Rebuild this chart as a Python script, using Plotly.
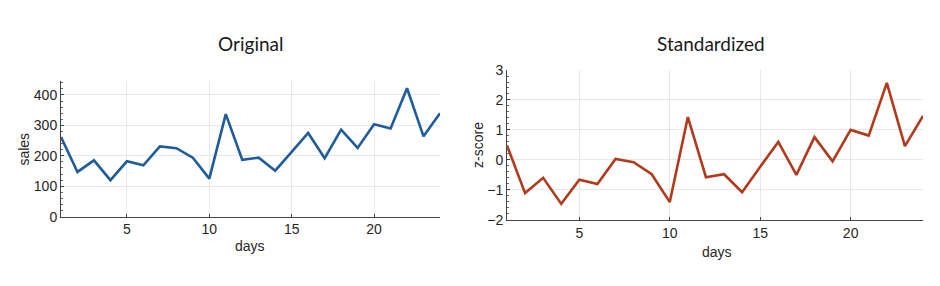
import plotly.graph_objects as go

days = list(range(1, 25))
sales = [262, 147, 185, 120, 182, 169, 231, 225, 194, 125, 337, 187,
         194, 151, 213, 275, 192, 286, 226, 304, 290, 422, 264, 340]
zscore = [0.48, -1.11, -0.60, -1.47, -0.66, -0.81, 0.03, -0.08, -0.48, -1.41, 1.43, -0.58,
          -0.48, -1.08, -0.23, 0.60, -0.50, 0.76, -0.05, 1.00, 0.81, 2.57, 0.46, 1.47]
x_ticks = [5, 10, 15, 20]
sales_ticks = [0, 100, 200, 300, 400]
z_ticks = [-2, -1, 0, 1, 2, 3]

W, H = 940, 286
tick_font = dict(family="Liberation Sans, Arial", size=14, color="#262626")
lab_font = dict(family="Liberation Sans, Arial", size=14, color="#262626")
title_font = dict(family="Lato, sans-serif", size=19, color="#1a1a1a")

fig = go.Figure()
fig.add_trace(go.Scatter(x=days, y=sales, mode="lines", xaxis="x", yaxis="y",
                         line=dict(color="#1f5c9c", width=2.6), showlegend=False))
fig.add_trace(go.Scatter(x=days, y=zscore, mode="lines", xaxis="x2", yaxis="y2",
                         line=dict(color="#b23a1c", width=2.6), showlegend=False))

def xax(domain, anchor):
    return dict(domain=domain, anchor=anchor, range=[1, 24], tickvals=x_ticks,
                showgrid=True, gridcolor="#e8e8e8", gridwidth=1,
                showline=True, linecolor="#444", linewidth=1,
                ticks="inside", ticklen=3, tickcolor="#444",
                tickfont=tick_font, zeroline=False, mirror=False)

def yax(domain, anchor, rng, tv, minor_d):
    return dict(domain=domain, anchor=anchor, range=rng, tickvals=tv,
                showgrid=True, gridcolor="#e8e8e8", gridwidth=1,
                showline=True, linecolor="#444", linewidth=1,
                ticks="inside", ticklen=3, tickcolor="#444",
                minor=dict(ticks="inside", ticklen=2, dtick=minor_d, tickcolor="#666", showgrid=False),
                tickfont=tick_font, zeroline=False)

fig.update_layout(
    width=W, height=H, margin=dict(l=0, r=0, t=0, b=0),
    paper_bgcolor="white", plot_bgcolor="white",
    xaxis=xax([61 / W, 440 / W], "y"),
    yaxis=yax([(H - 221) / H, (H - 77) / H], "x", [0, 447], sales_ticks, 20),
    xaxis2=xax([507 / W, 923 / W], "y2"),
    yaxis2=yax([(H - 224.3) / H, (H - 65.7) / H], "x2", [-2, 3], z_ticks, 0.2),
    annotations=[
        dict(text="Original", x=250 / W, y=1 - 38 / H, xref="paper", yref="paper",
             showarrow=False, font=title_font, xanchor="center", yanchor="middle"),
        dict(text="Standardized", x=711 / W, y=1 - 38 / H, xref="paper", yref="paper",
             showarrow=False, font=title_font, xanchor="center", yanchor="middle"),
        dict(text="days", x=250 / W, y=1 - 252 / H, xref="paper", yref="paper",
             showarrow=False, font=lab_font, xanchor="center", yanchor="middle"),
        dict(text="days", x=717 / W, y=1 - 258 / H, xref="paper", yref="paper",
             showarrow=False, font=lab_font, xanchor="center", yanchor="middle"),
        dict(text="sales", x=24 / W, y=1 - 150 / H, xref="paper", yref="paper", textangle=-90,
             showarrow=False, font=lab_font, xanchor="center", yanchor="middle"),
        dict(text="z-score", x=478 / W, y=1 - 145 / H, xref="paper", yref="paper", textangle=-90,
             showarrow=False, font=lab_font, xanchor="center", yanchor="middle"),
    ],
)

fig.write_html("out.html")
